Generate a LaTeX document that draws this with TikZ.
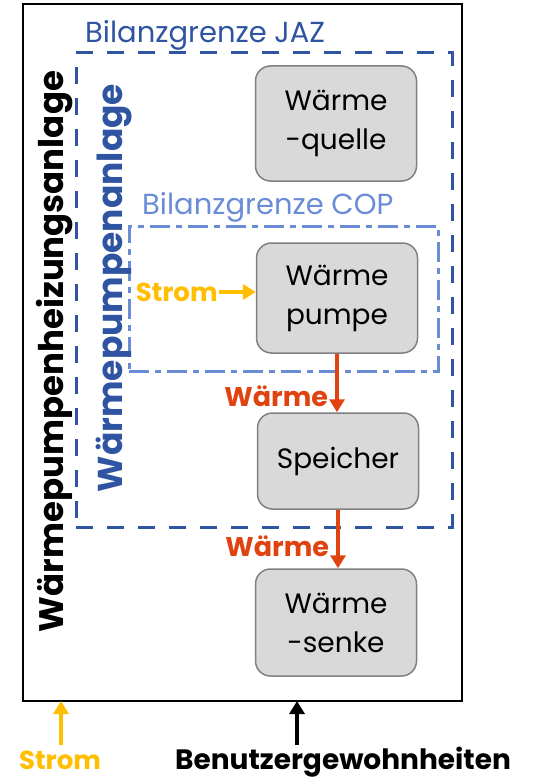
\documentclass[tikz,border=0pt]{standalone}
\usepackage{fontspec}
\setmainfont{Poppins}
\usetikzlibrary{positioning,arrows.meta}
\definecolor{jazblau}{RGB}{47,84,162}
\definecolor{copblau}{RGB}{106,140,214}
\definecolor{waermerot}{RGB}{224,66,16}
\definecolor{stromgelb}{RGB}{255,190,0}
\definecolor{boxgrau}{RGB}{217,217,217}
\definecolor{randgrau}{RGB}{128,128,128}
\tikzset{
  komponente/.style={draw=randgrau,line width=1.5pt,fill=boxgrau,rounded corners=15pt,
    minimum width=161pt,align=center,font=\fontsize{28}{39}\selectfont},
  fluss/.style={line width=4pt,-{Triangle[width=15pt,length=13pt]}},
  fettlabel/.style={font=\fontsize{26}{30}\selectfont\bfseries,inner sep=1pt}
}
\begin{document}
\begin{tikzpicture}[x=1pt,y=-1pt]
  \useasboundingbox (0,0) rectangle (554,778);
  \node[draw,line width=2pt,minimum width=439pt,minimum height=697pt,inner sep=0pt] (anlage) at (242.5,352.5) {};
  \node[draw=jazblau,line width=3pt,dash pattern=on 17pt off 14pt,minimum width=376pt,minimum height=474pt,inner sep=0pt] (jaz) at (264,290) {};
  \node[draw=copblau,line width=3pt,dash pattern=on 20pt off 6pt on 6pt off 6pt,minimum width=309pt,minimum height=145pt,inner sep=0pt] (cop) at (283.5,298.5) {};
  \node[anchor=base west,inner sep=0pt,text=jazblau,font=\fontsize{29}{30}\selectfont] (jaztext) at (85,43) {Bilanzgrenze JAZ};
  \node[anchor=base west,inner sep=0pt,text=copblau,font=\fontsize{29}{30}\selectfont] (coptext) at (142,214) {Bilanzgrenze COP};

  \node[komponente,minimum height=115pt] (quelle) at (336,123.5) {Wärme\\-quelle};
  \node[komponente,minimum height=110pt] (pumpe) at (337,298) {Wärme\\pumpe};
  \node[komponente,minimum height=96pt] (speicher) at (338,461) {Speicher};
  \node[komponente,minimum height=107pt] (senke) at (336,622.5) {Wärme\\-senke};

  \draw[fluss,waermerot] (pumpe.south) -- (pumpe.south |- speicher.north) node[pos=0.72,left=6pt,fettlabel,font=\fontsize{27}{30}\selectfont\bfseries] (waerme1) {Wärme};
  \draw[fluss,waermerot] (speicher.south) -- (speicher.south |- senke.north) node[pos=0.62,left=6pt,fettlabel,font=\fontsize{27}{30}\selectfont\bfseries] (waerme2) {Wärme};

  \node[fettlabel,text=stromgelb,left=37pt of pumpe,yshift=6pt] (stromwp) {Strom};
  \draw[fluss,stromgelb] (stromwp.east) -- (stromwp.east -| pumpe.west);

  \node[rotate=90,anchor=base,font=\fontsize{34}{40}\selectfont\bfseries] (whza) at (63,351.5) {Wärmepumpenheizungsanlage};
  \node[rotate=90,anchor=base,text=jazblau,font=\fontsize{34.5}{40}\selectfont\bfseries] (wpa) at (122,288) {Wärmepumpenanlage};

  \node[fettlabel,text=stromgelb,anchor=base] (stromunten) at (60,769) {Strom};
  \node[fettlabel,anchor=base,font=\fontsize{28}{30}\selectfont\bfseries] (nutzer) at (343,769) {Benutzergewohnheiten};
  \coordinate (strompunkt) at (61,701);
  \coordinate (nutzerpunkt) at (297,701);
  \draw[fluss,stromgelb] (strompunkt |- 0,745) -- (strompunkt);
  \draw[fluss] (nutzerpunkt |- 0,745) -- (nutzerpunkt);
\end{tikzpicture}
\end{document}
